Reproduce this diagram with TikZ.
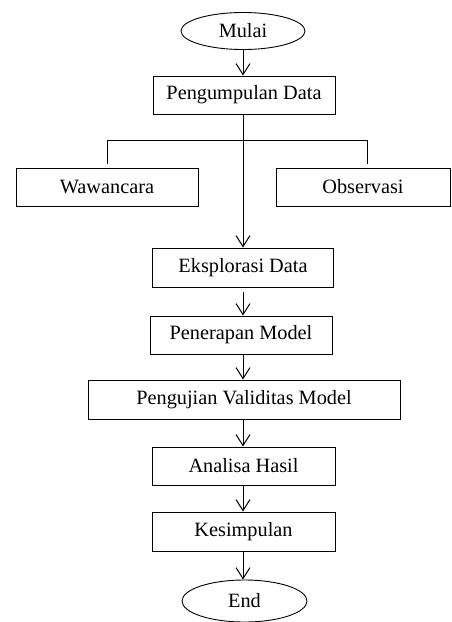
\documentclass[tikz,border=0pt]{standalone}
\usepackage{fontspec}
\setmainfont{Liberation Serif}
\usetikzlibrary{shapes.geometric,arrows.meta}
\begin{document}
\begin{tikzpicture}[x=1pt,y=-1pt,
  every node/.style={font=\fontsize{20.3}{22}\selectfont, inner sep=0pt},
  procbox/.style={draw, line width=1pt, rectangle, minimum height=38pt},
  term/.style={draw, line width=0.9pt, ellipse},
  conn/.style={line width=1pt},
  arr/.style={conn, -{Straight Barb[length=11pt,width=14pt,line width=1pt]}}]
\useasboundingbox (0,0) rectangle (452,622);
\node[term, minimum width=124pt, minimum height=37pt] (mulai) at (243,31) {Mulai};
\node[procbox, minimum width=182pt] (pd) at (244,95) {Pengumpulan Data};
\node[procbox, minimum width=182pt] (waw) at (107,187) {Wawancara};
\node[procbox, minimum width=174pt] (obs) at (363,187) {Observasi};
\node[procbox, minimum width=181pt, minimum height=39pt] (eks) at (243,267.5) {Eksplorasi Data};
\node[procbox, minimum width=182pt] (pen) at (241,335) {Penerapan Model};
\node[procbox, minimum width=312pt, minimum height=39pt] (pvm) at (244,399.5) {Pengujian Validitas Model};
\node[procbox, minimum width=183pt] (ana) at (243.5,466) {Analisa Hasil};
\node[procbox, minimum width=183pt, minimum height=39pt] (kes) at (243.5,531.5) {Kesimpulan};
\node[term, minimum width=125pt, minimum height=42pt] (end) at (244.5,601) {End};
\coordinate (bl) at (107,140);
\coordinate (br) at (367,140);
\coordinate (blend) at (107,164);
\coordinate (brend) at (367,164);
\draw[arr] (243,0 |- mulai.south) -- (243,0 |- pd.north);
\draw[arr] (243,0 |- pd.south) -- (243,0 |- eks.north);
\draw[conn] (blend) -- (bl) -- (br) -- (brend);
\draw[arr] (243,0 |- eks.south) ++(0,4) -- (243,0 |- pen.north);
\draw[arr] (243,0 |- pen.south) -- (243,0 |- pvm.north);
\draw[arr] (243,0 |- pvm.south) -- (243,0 |- ana.north);
\draw[arr] (243,0 |- ana.south) -- (243,0 |- kes.north);
\draw[arr] (243,0 |- kes.south) -- (243,0 |- end.north);
\end{tikzpicture}
\end{document}
